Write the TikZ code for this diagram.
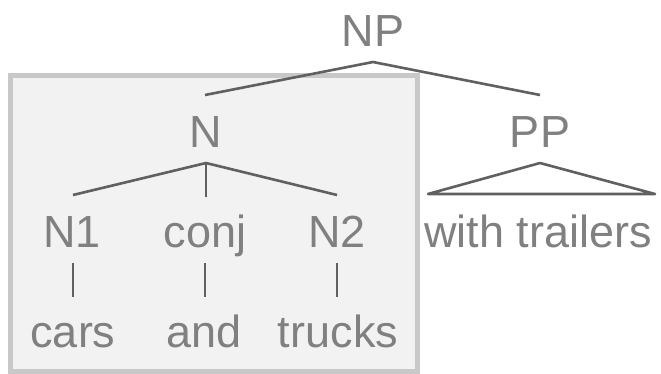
\documentclass[tikz,border=0pt]{standalone}
\usepackage{fontspec}
\setmainfont{Liberation Sans}
\definecolor{labelgray}{HTML}{808080}
\definecolor{edgegray}{HTML}{606060}
\definecolor{boxfill}{HTML}{F2F2F2}
\definecolor{boxline}{HTML}{C8C8C8}
\begin{document}
\begin{tikzpicture}[x=1pt,y=-1pt,
  lbl/.style={inner sep=0pt,anchor=base,text=labelgray,font=\fontsize{45}{54}\selectfont},
  edge/.style={draw=edgegray,line width=2.6pt,line join=round},
  twig/.style={draw=edgegray,line width=1.6pt}]
\useasboundingbox (0,0) rectangle (661,373);
\fill[white] (0,0) rectangle (661,373);
% highlighted coordinated noun
\draw[draw=boxline,fill=boxfill,line width=5pt] (10.5,75) rectangle (417.5,371.5);

% labels
\node[lbl] (NP) at (373,46) {NP};
\node[lbl] (N) at (206,147) {N};
\node[lbl] (PP) at (540,147) {PP};
\node[lbl] (N1) at (72,247) {N1};
\node[lbl] (conj) at (205,247) {conj};
\node[lbl] (N2) at (337,247) {N2};
\node[lbl] (wt) at (538,247) {with trailers};
\node[lbl] (cars) at (73,347) {cars};
\node[lbl] (and) at (204,347) {and};
\node[lbl] (trucks) at (338,347) {trucks};

% branch points
\coordinate (npA) at (373,62);
\coordinate (nA) at (206,163);
\coordinate (ppA) at (540,163);
\coordinate (nL) at (205,95);
\coordinate (ppR) at (540,95);
\coordinate (n1T) at (73,195);
\coordinate (conjT) at (206,197);
\coordinate (n2T) at (337,195);
\coordinate (triL) at (428,194);
\coordinate (triR) at (655,194);
\coordinate (n1B) at (73,263);   \coordinate (carsT) at (73,297);
\coordinate (conjB) at (205,263); \coordinate (andT) at (205,297);
\coordinate (n2B) at (337,263);  \coordinate (trucksT) at (337,297);

% edges
\draw[edge] (nL) -- (npA) -- (ppR);
\draw[edge] (n1T) -- (nA) -- (n2T);
\draw[twig] (nA) -- (conjT);
\draw[edge] (triL) -- (ppA) -- (triR) -- cycle;
\draw[twig] (n1B) -- (carsT);
\draw[twig] (conjB) -- (andT);
\draw[twig] (n2B) -- (trucksT);
\end{tikzpicture}
\end{document}
